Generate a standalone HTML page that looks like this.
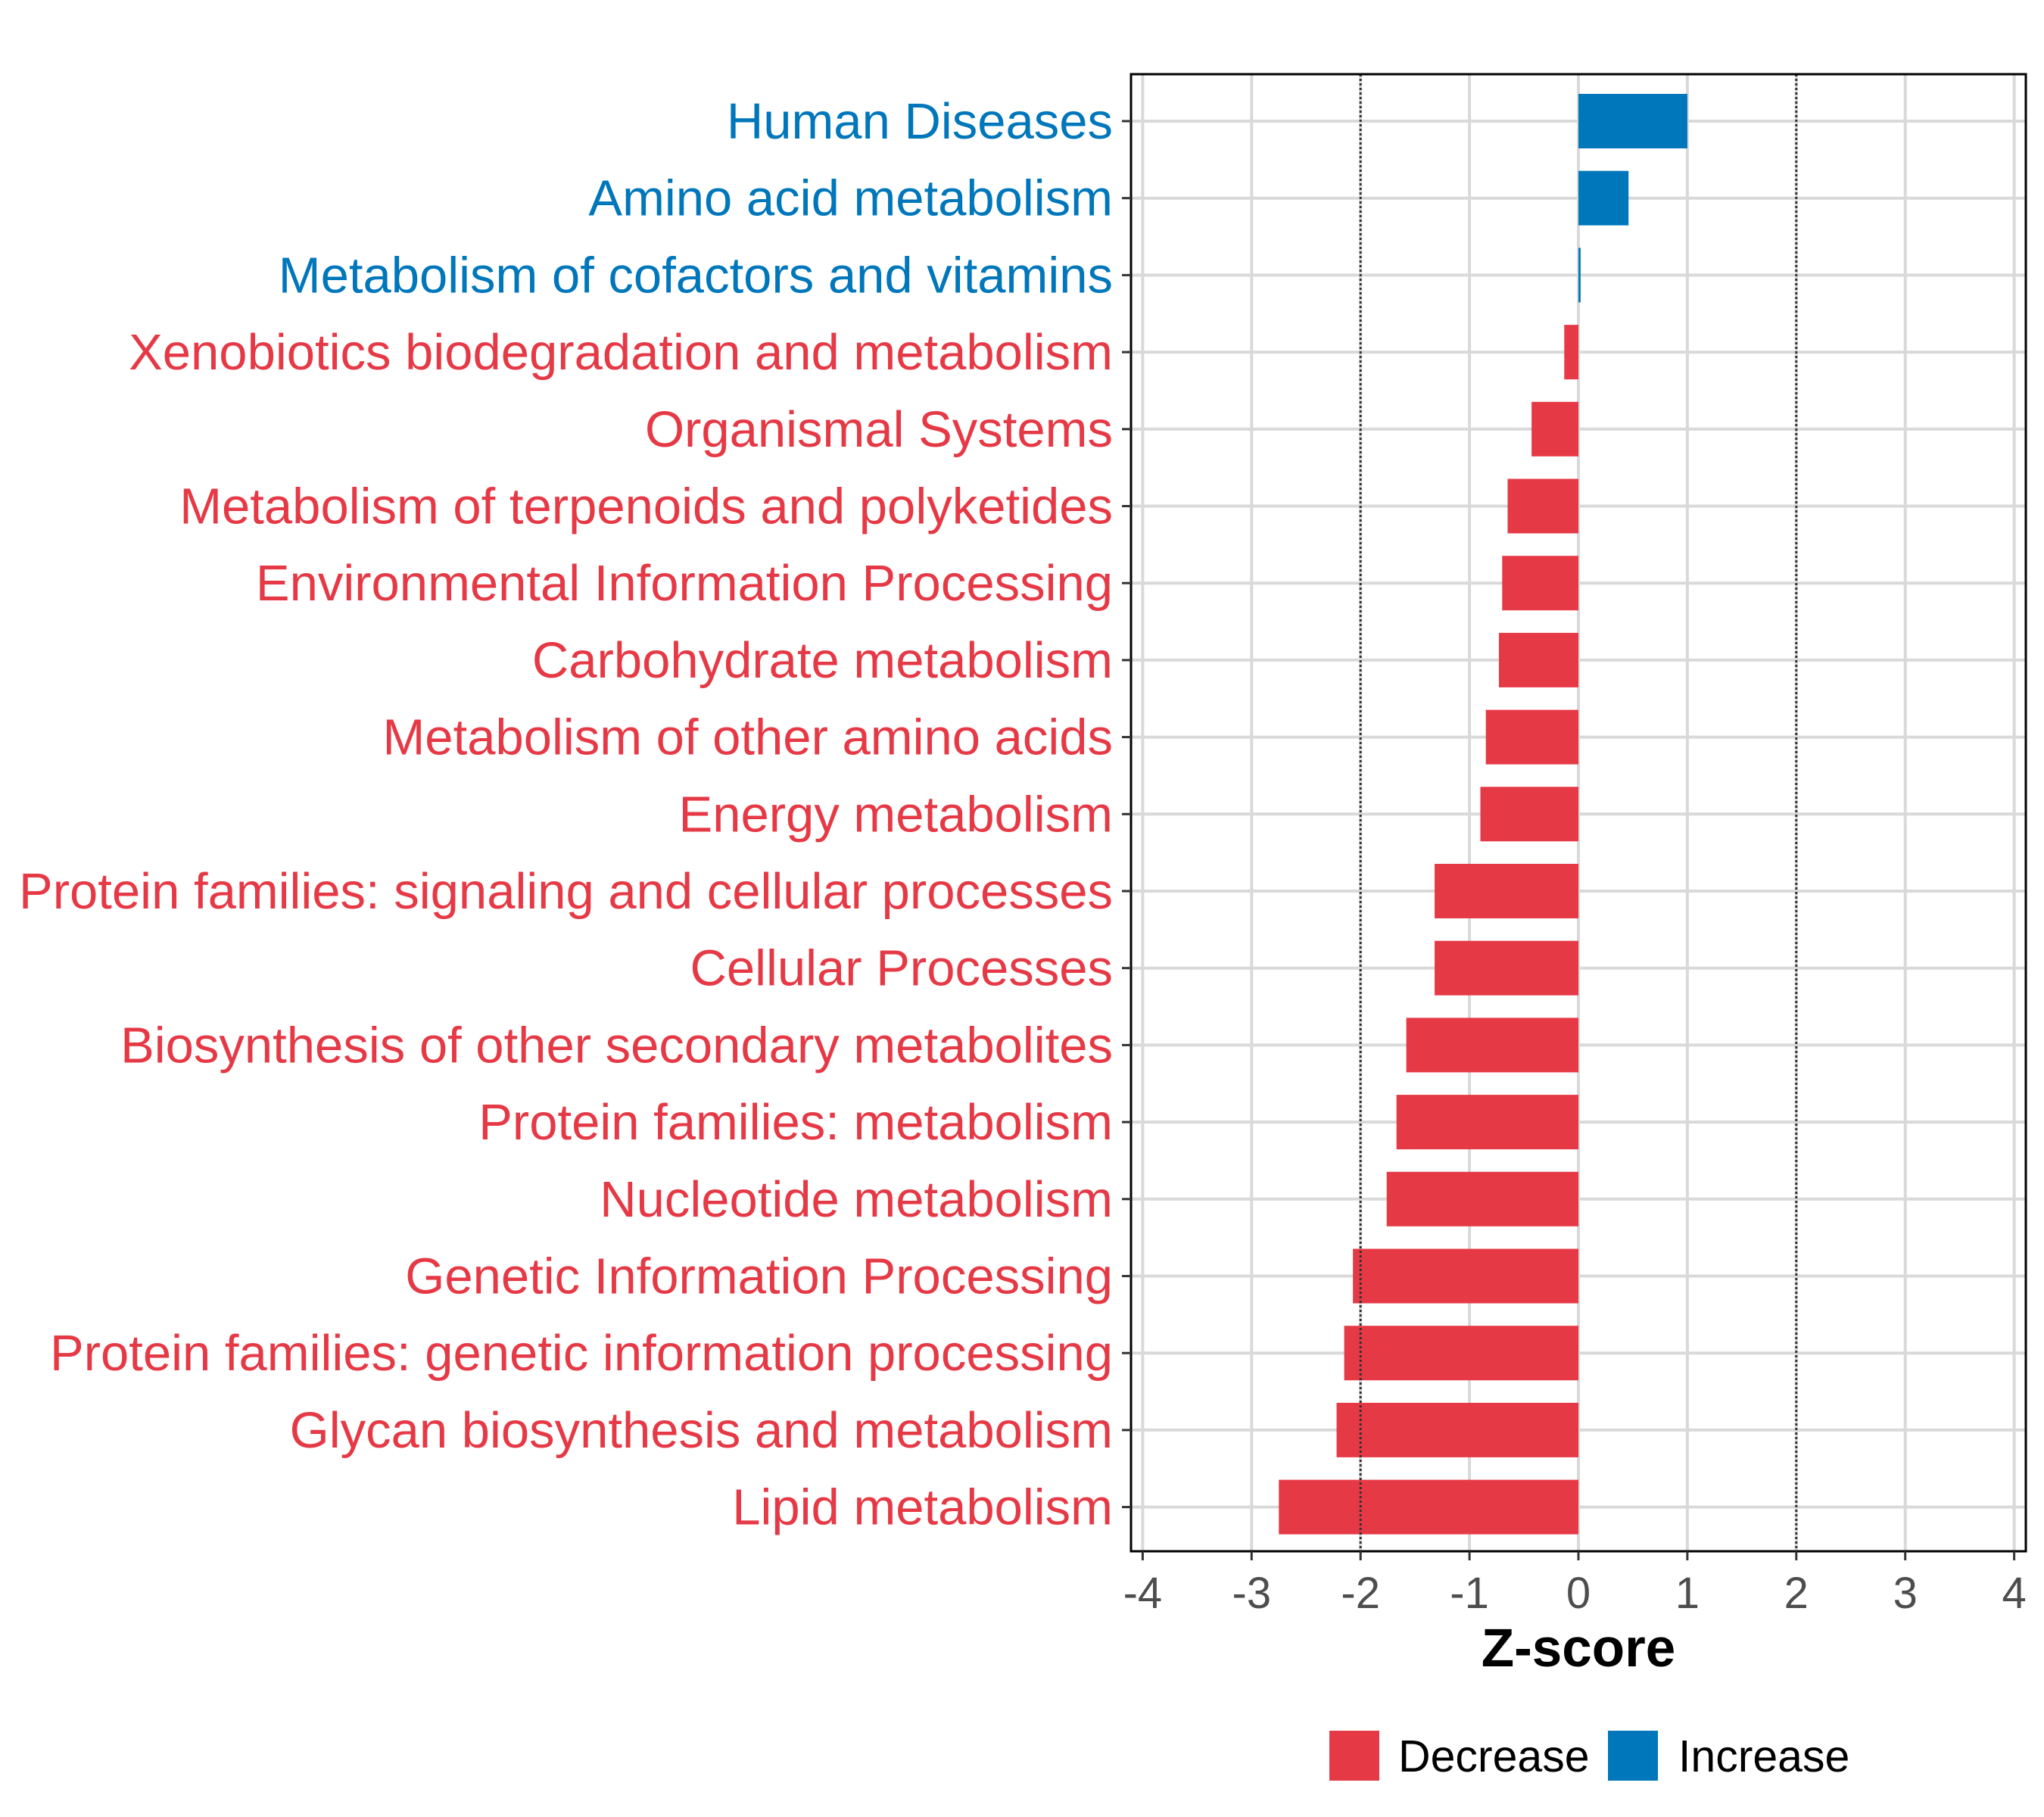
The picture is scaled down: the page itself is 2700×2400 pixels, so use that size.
<!DOCTYPE html>
<html><head><meta charset="utf-8"><style>
html,body{margin:0;padding:0;background:#fff;}
svg{display:block;font-family:"Liberation Sans",Arial,sans-serif;}
</style></head><body>
<svg id="chart" width="2700" height="2400" viewBox="0 0 2700 2400" xmlns="http://www.w3.org/2000/svg"></svg>
<script>
const categories = ["Human Diseases","Amino acid metabolism","Metabolism of cofactors and vitamins","Xenobiotics biodegradation and metabolism","Organismal Systems","Metabolism of terpenoids and polyketides","Environmental Information Processing","Carbohydrate metabolism","Metabolism of other amino acids","Energy metabolism","Protein families: signaling and cellular processes","Cellular Processes","Biosynthesis of other secondary metabolites","Protein families: metabolism","Nucleotide metabolism","Genetic Information Processing","Protein families: genetic information processing","Glycan biosynthesis and metabolism","Lipid metabolism"];
const zscores = [1.0,0.46,0.02,-0.13,-0.43,-0.65,-0.70,-0.73,-0.85,-0.90,-1.32,-1.32,-1.58,-1.67,-1.76,-2.07,-2.15,-2.22,-2.75];
const xTicks = [-4,-3,-2,-1,0,1,2,3,4];
const thresholds = [-2,2];
const legendLabels = ["Decrease","Increase"];

const RED="#e63946", BLUE="#0077bb";
const NS="http://www.w3.org/2000/svg";
const svg=document.getElementById('chart');
const P={l:1494,r:2676,t:98,b:2049};
const x0=2085, unit=143.9;
function xs(v){return x0+v*unit;}
const rowTop=160, rowStep=101.7, barH=72;
function ys(i){return rowTop+i*rowStep;}
function mk(tag,attrs,parent){const e=document.createElementNS(NS,tag);for(const k in attrs)e.setAttribute(k,attrs[k]);(parent||svg).appendChild(e);return e;}

xTicks.forEach(t=>{
  const g=mk('line',{x1:xs(t),x2:xs(t),y1:P.t,y2:P.b,stroke:'#d9d9d9','stroke-width':4});
  
  
});
categories.forEach((c,i)=>{
  const g=mk('line',{x1:P.l,x2:P.r,y1:ys(i),y2:ys(i),stroke:'#d9d9d9','stroke-width':4});
  
  
});
categories.forEach((c,i)=>{
  const v=zscores[i];
  const a=xs(Math.min(0,v)), b=xs(Math.max(0,v));
  const r=mk('rect',{x:a,y:ys(i)-barH/2,width:Math.max(b-a,2),height:barH,fill:v>=0?BLUE:RED});
  
  
});
thresholds.forEach(t=>{
  const l=mk('line',{x1:xs(t),x2:xs(t),y1:P.t,y2:P.b,stroke:'#333','stroke-width':3,'stroke-dasharray':'3,3'});
  
  
});
const br=mk('rect',{x:P.l,y:P.t,width:P.r-P.l,height:P.b-P.t,fill:'none',stroke:'#000','stroke-width':3});


categories.forEach((c,i)=>{
  mk('line',{x1:P.l-12,x2:P.l,y1:ys(i),y2:ys(i),stroke:'#333','stroke-width':3});
  const t=mk('text',{x:1470,y:ys(i)+23,'text-anchor':'end','font-size':67,fill:zscores[i]>=0?BLUE:RED});
  t.textContent=c;
  
  
});
xTicks.forEach(t=>{
  mk('line',{x1:xs(t),x2:xs(t),y1:P.b,y2:P.b+12,stroke:'#333','stroke-width':3});
  const tx=mk('text',{x:xs(t),y:2124,'text-anchor':'middle','font-size':58,fill:'#4d4d4d'});
  tx.textContent=String(t);
  
  
});
const xt=mk('text',{x:xs(0),y:2201,'text-anchor':'middle','font-size':71,'font-weight':'bold',fill:'#000'});
xt.textContent='Z-score';


const lg=[{x:1756,c:RED,tx:1847},{x:2124,c:BLUE,tx:2217}];
legendLabels.forEach((lab,i)=>{
  const s=mk('rect',{x:lg[i].x,y:2286,width:66,height:66,fill:lg[i].c});
  
  
  const t=mk('text',{x:lg[i].tx,y:2340,'font-size':59,fill:'#000'});
  t.textContent=lab;
  
  
});
</script>
</body></html>
